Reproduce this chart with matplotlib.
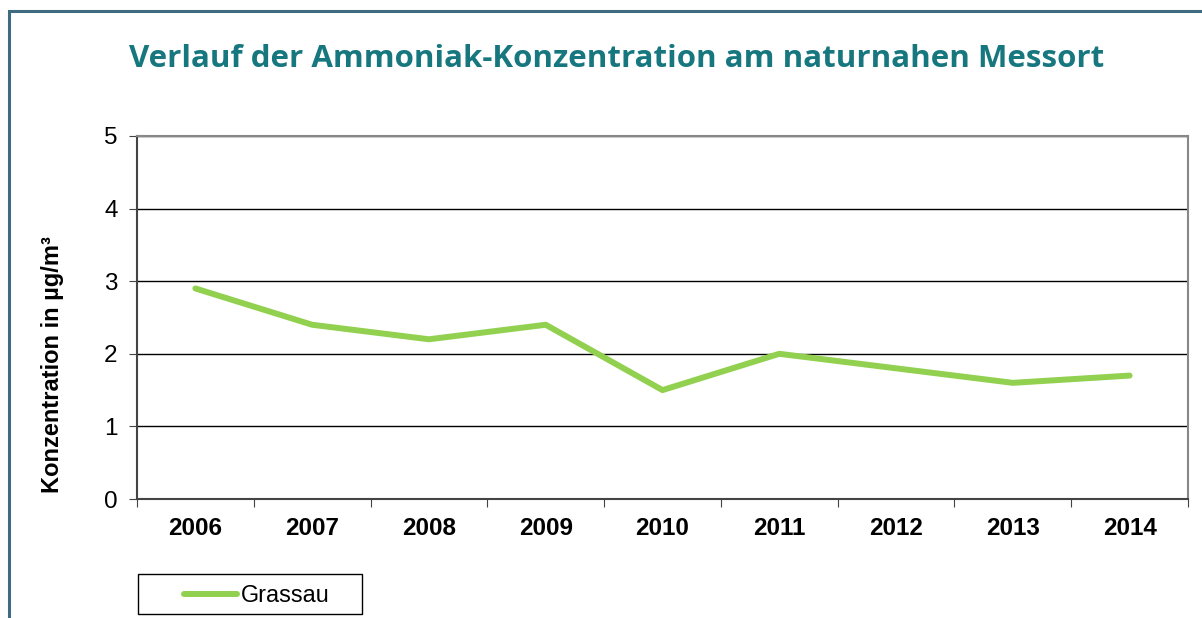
import matplotlib.pyplot as plt
from matplotlib.patches import Rectangle
from matplotlib.lines import Line2D

years = ["2006", "2007", "2008", "2009", "2010", "2011", "2012", "2013", "2014"]
grassau = [2.9, 2.4, 2.2, 2.4, 1.5, 2.0, 1.8, 1.6, 1.7]

plt.rcParams["font.family"] = ["Liberation Sans", "DejaVu Sans"]

fig = plt.figure(figsize=(12.02, 6.18), dpi=100)
W, H = 1202, 618

# outer frame (runs past right and bottom edge)
fig.add_artist(Rectangle((9 / W, -0.1), 1.2, 1 - 11 / H + 0.1, transform=fig.transFigure,
                         fill=False, edgecolor="#3f6b80", linewidth=2.2))

ax = fig.add_axes([137 / W, 1 - 499 / H, (1188 - 137) / W, (499 - 136) / H])
x = list(range(len(years)))
ax.plot(x, grassau, color="#92d050", linewidth=4.3, solid_capstyle="round", zorder=3)

ax.set_xlim(-0.5, len(years) - 0.5)
ax.set_ylim(0, 5)
ax.set_yticks([0, 1, 2, 3, 4, 5])
ax.set_yticklabels(["0", "1", "2", "3", "4", "5"], fontsize=17.5)
ax.set_xticks([i - 0.5 for i in range(len(years) + 1)])
ax.set_xticklabels([])
ax.set_xticks(x, minor=True)
ax.set_xticklabels(years, minor=True, fontsize=17.5, fontweight="bold")
ax.tick_params(axis="x", which="minor", length=0, pad=13)
ax.tick_params(axis="x", which="major", length=6, color="#444444", direction="out")
ax.tick_params(axis="y", length=6, color="#444444", pad=8)
ax.grid(axis="y", color="black", linewidth=1)
ax.set_axisbelow(True)

for s in ["top", "right"]:
    ax.spines[s].set_color("#888888")
    ax.spines[s].set_linewidth(1.5)
for s in ["left", "bottom"]:
    ax.spines[s].set_color("#444444")
    ax.spines[s].set_linewidth(1.5)

# y label sits lower than the axis centre in the original
fig.text(52 / W, 1 - 365 / H, "Konzentration in µg/m³", rotation=90, ha="center", va="center",
         fontsize=17, fontweight="bold")

fig.text(617 / W, 1 - 59 / H, "Verlauf der Ammoniak-Konzentration am naturnahen Messort",
         ha="center", va="center", fontsize=22.5, fontweight="bold", color="#17777f",
         family=["Open Sans", "DejaVu Sans"])

# legend box
fig.add_artist(Rectangle((138 / W, 1 - 614 / H), (362 - 138) / W, (614 - 574) / H,
                         transform=fig.transFigure, fill=False, edgecolor="black", linewidth=1))
fig.add_artist(Line2D([184 / W, 237 / W], [1 - 594 / H, 1 - 594 / H], transform=fig.transFigure,
                      color="#92d050", linewidth=4.3, solid_capstyle="round"))
fig.text(241 / W, 1 - 595 / H, "Grassau", ha="left", va="center", fontsize=16.8)

fig.savefig("out.png", dpi=100)
